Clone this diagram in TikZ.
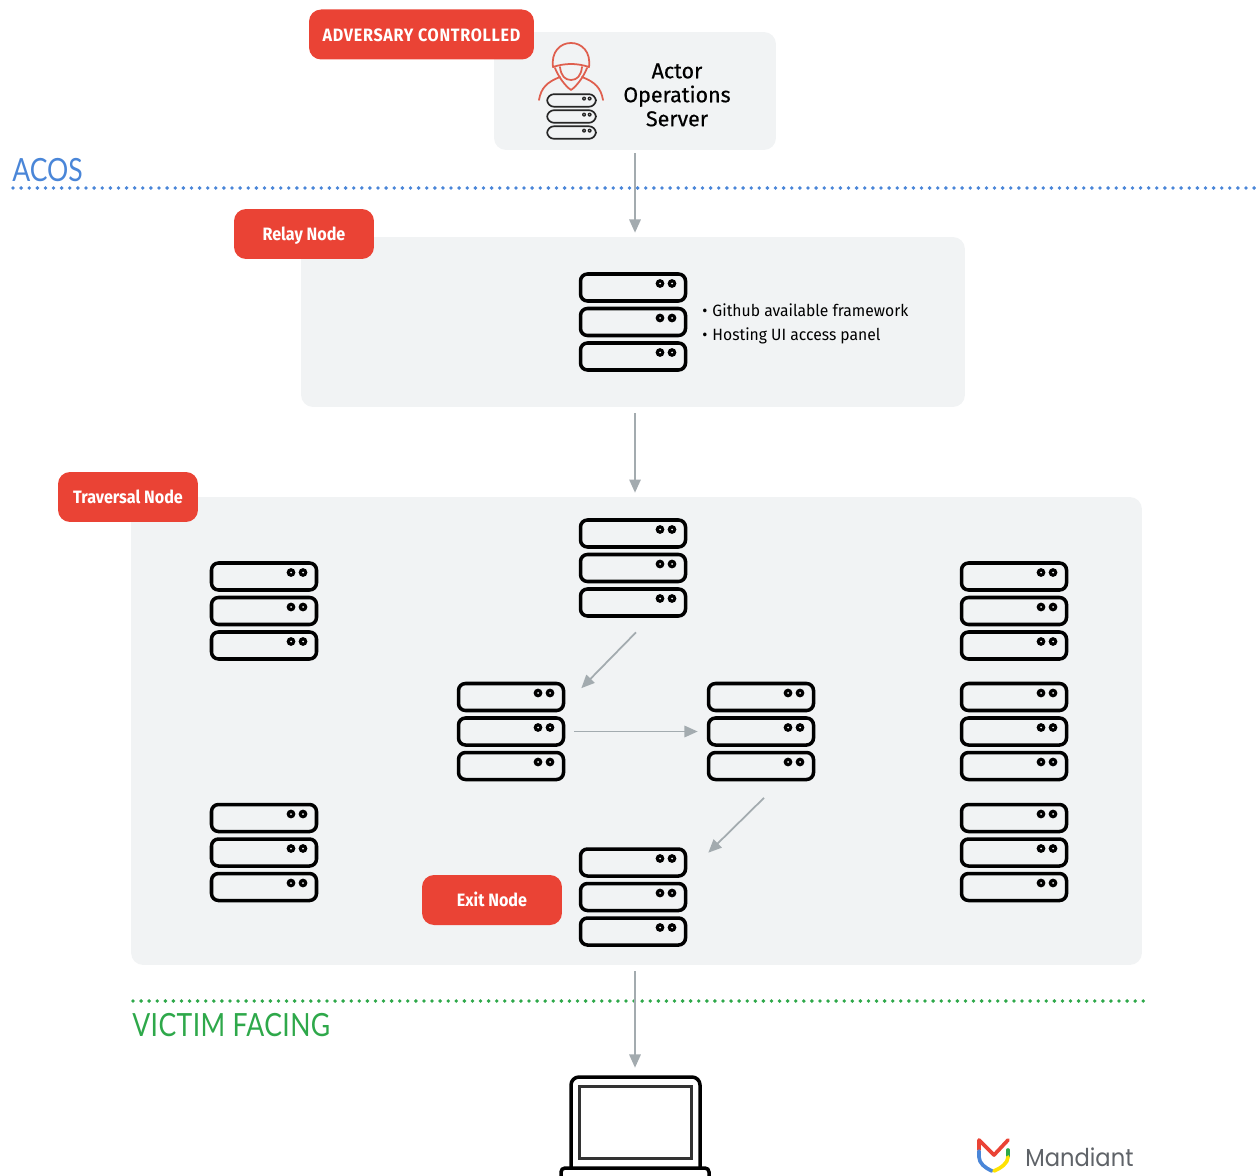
\documentclass[tikz,border=0pt]{standalone}
\usepackage{fontspec}
\usetikzlibrary{arrows.meta}
\setmainfont{Fira Sans}
\newfontfamily\badgefont[FakeStretch=.9]{Fira Sans}
\newfontfamily\titlefont[FakeStretch=.83]{Lato}
\newfontfamily\notefont[FakeStretch=.96]{Fira Sans}
\newfontfamily\brandfont[FakeStretch=.92]{Poppins}
\definecolor{panelgray}{HTML}{F1F3F4}
\definecolor{badgered}{HTML}{EA4335}
\definecolor{arrowgray}{HTML}{A3ABAF}
\definecolor{acosblue}{HTML}{4A86D8}
\definecolor{victimgreen}{HTML}{2EA84A}
\definecolor{hoodred}{HTML}{DF5F4E}
\definecolor{brandgray}{HTML}{5F6368}
\tikzset{
  panel/.style={fill=panelgray, rounded corners=.24cm, inner sep=0pt},
  badge/.style={fill=badgered, rounded corners=.24cm, text=white, inner sep=0pt,
    font=\badgefont\bfseries\fontsize{10.2}{12}\selectfont, minimum width=2.8cm, minimum height=1cm,
    text height=7.8pt, text depth=0pt},
  rackbox/.style={minimum width=2.16cm, minimum height=1.96cm, inner sep=0pt},
  bulletline/.style={anchor=base west, inner sep=0pt, font=\notefont\fontsize{9.3}{12}\selectfont},
  flowarrow/.style={draw=arrowgray, line width=1pt, -{Triangle[length=7.5pt,width=6.5pt]}},
  dotline/.style={line width=2.2pt, line cap=round, dash pattern=on 0pt off 4.6pt},
  hoodline/.style={draw=hoodred, line width=1pt, line cap=round, line join=round},
  brandline/.style={line width=2.1pt, line cap=round, line join=round},
  serverpic/.pic={
    \foreach \r in {-34.5,0,34.5} {
      \draw[rounded corners=.14cm] (-52.5,\r-13.5) rectangle (52.5,\r+13.5);
      \fill (27,\r-4) circle (4.4);
      \fill (39,\r-4) circle (4.4);
      \fill[panelgray] (27,\r-4) circle (1);
      \fill[panelgray] (39,\r-4) circle (1);
    }
  }
}
\begin{document}
\begin{tikzpicture}[x=.02cm, y=-.02cm]
  \useasboundingbox (0,0) rectangle (1256,1175);
  \clip (0,0) rectangle (1256,1175);

  % Paneles
  \node[panel, minimum width=5.64cm, minimum height=2.36cm] (actorPanel) at (635,91) {};
  \node[panel, minimum width=13.28cm, minimum height=3.4cm] (relayPanel) at (633,322) {};
  \node[panel, minimum width=20.22cm, minimum height=9.36cm] (traversalPanel) at (636.5,731) {};

  % Lineas punteadas
  \draw[acosblue, dotline, dash pattern=on 0pt off 4.617pt] (13,188) -- (1264,188);
  \draw[victimgreen, dotline] (133,1001) -- (1146,1001);
  \node[anchor=west, inner sep=0pt, text=acosblue, font=\titlefont\fontsize{18.2}{20}\selectfont] (acosLabel) at (12,170) {ACOS};
  \node[anchor=west, inner sep=0pt, text=victimgreen, font=\titlefont\fontsize{18.2}{20}\selectfont\addfontfeature{LetterSpace=1.3}] (victimLabel) at (132,1025) {VICTIM FACING};

  % Servidores
  \foreach \nm/\x/\y in {relayRack/633/322, topRack/633/568, leftRackA/264/611, leftRackB/264/852.5,
      rightRackA/1014/611, rightRackB/1014/731.5, rightRackC/1014/852.5,
      midRackL/511/731.5, midRackR/761/731.5, exitRack/633/897} {
    \node[rackbox] (\nm) at (\x,\y) {};
    \pic[line width=2pt] at (\nm) {serverpic};
  }

  % Actor
  \node[inner sep=0pt, minimum width=1cm, minimum height=.9cm] (actorRack) at (571.5,116.5) {};
  \pic[scale=.465, line width=.95pt, black!85] at (actorRack) {serverpic};
  \draw[hoodline] (553,67) .. controls (551,52) and (560,43) .. (571,43) .. controls (582,43) and (591,52) .. (589,67);
  \draw[hoodline] (553,67) .. controls (565,63) and (577,63) .. (589,67);
  \draw[hoodline] (560,67) .. controls (561,76) and (565,80) .. (571,80) .. controls (577,80) and (581,76) .. (582,67);
  \draw[hoodline] (555,68) .. controls (558,76) and (565,86) .. (571,90) .. controls (577,86) and (584,76) .. (587,68);
  \draw[hoodline] (539,100) .. controls (541,88) and (547,82) .. (560,77);
  \draw[hoodline] (603,100) .. controls (601,88) and (595,82) .. (582,77);
  \node[align=center, inner sep=0pt, font=\fontsize{12.2}{13.65}\selectfont\addfontfeature{FakeBold=.4}] (actorLabel) at (677,95) {Actor\\Operations\\Server};

  % Etiquetas
  \node[badge, minimum width=4.5cm, font=\badgefont\bfseries\fontsize{10.2}{12}\selectfont\addfontfeature{LetterSpace=4}] (adversaryBadge) at (421.5,34.5) {ADVERSARY CONTROLLED};
  \node[badge] (relayBadge) at (304,234) {Relay Node};
  \node[badge] (traversalBadge) at (128,497) {Traversal Node};
  \node[badge] (exitBadge) at (492,900) {Exit Node};

  % Texto
  \node[bulletline] (relayNoteA) at (702,317) {\makebox[.62em][l]{\textbullet}Github available framework};
  \node[bulletline] (relayNoteB) at (702,341) {\makebox[.62em][l]{\textbullet}Hosting UI access panel};

  % Portatil
  \node[minimum width=2.64cm, minimum height=1.84cm, inner sep=0pt] (laptop) at (635,1122) {};
  \draw[line width=2pt, line join=round] (571,1167) -- (571,1086) [rounded corners=.16cm] -- (571,1077) -- (700,1077) [sharp corners] -- (700,1167);
  \draw[line width=1.9pt, black!80] (579.5,1086.5) rectangle (691.5,1158.5);
  \draw[line width=2pt, rounded corners=.08cm] (561,1168) rectangle (709,1190);

  % Flechas
  \draw[flowarrow] ([shift={(0,3)}]actorPanel.south) -- ([shift={(2,-4)}]relayPanel.north);
  \draw[flowarrow] ([shift={(2,6)}]relayPanel.south) -- ([shift={(-1.5,-4)}]traversalPanel.north);
  \draw[flowarrow] ([shift={(3,15)}]topRack.south) -- ([shift={(16,6)}]midRackL.north east);
  \draw[flowarrow] ([shift={(9,0)}]midRackL.east) -- ([shift={(-9,0)}]midRackR.west);
  \draw[flowarrow] ([shift={(3,17)}]midRackR.south) -- ([shift={(21,5)}]exitRack.north east);
  \draw[flowarrow] ([shift={(-1.5,6)}]traversalPanel.south) -- ([shift={(0,-8)}]laptop.north);

  % Logo
  \draw[brandline, draw=badgered] (979,1150) -- (979,1140) -- (994,1155) -- (1008,1140);
  \draw[brandline, draw=victimgreen] (1008,1150) -- (1008,1156);
  \draw[brandline, draw=acosblue] (979,1151) -- (979,1157) .. controls (979,1163) and (985,1168) .. (992,1171);
  \draw[brandline, draw=yellow!85!orange] (994,1171) .. controls (1001,1168) and (1008,1163) .. (1008,1157);
  \node[anchor=west, inner sep=0pt, text=brandgray, font=\brandfont\fontsize{14}{16}\selectfont] (brandLabel) at (1025,1157) {Mandiant};
\end{tikzpicture}
\end{document}
